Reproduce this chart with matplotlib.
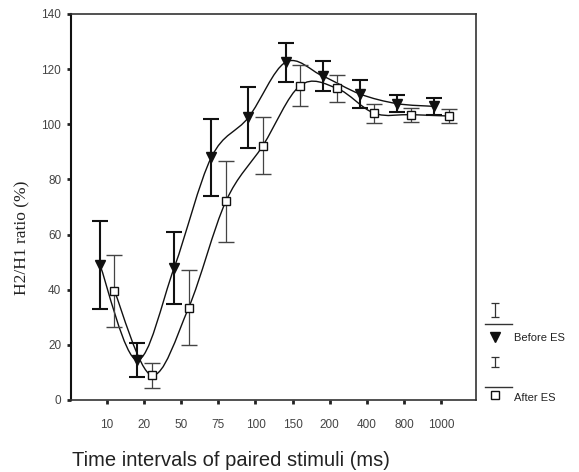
import numpy as np
import matplotlib
matplotlib.use("Agg")
from matplotlib import pyplot as plt
from matplotlib.path import Path
from matplotlib.patches import PathPatch

# paired-stimulus intervals (ms), shown as evenly spaced categories
intervals = ["10", "20", "50", "75", "100", "150", "200", "400", "800", "1000"]

# H2/H1 ratio (%) before electrical stimulation
before_mean = [49, 14.5, 48, 88, 102.5, 122.5, 117.5, 111, 107.5, 106.5]
before_err = [16, 6, 13, 14, 11, 7, 5.5, 5, 3, 3]

# H2/H1 ratio (%) after electrical stimulation
after_mean = [39.5, 9, 33.5, 72, 92.3, 114, 113, 104, 103.5, 103]
after_err = [13, 4.6, 13.5, 14.8, 10.5, 7.5, 5, 3.5, 2.5, 2.5]


def smooth_line(ax, xs, ys, **kw):
    # catmull-rom curve through the points, drawn as bezier segments
    pts = np.column_stack([xs, ys])
    n = len(pts)
    verts = [pts[0]]
    codes = [Path.MOVETO]
    for i in range(n - 1):
        p0 = pts[max(i - 1, 0)]
        p1 = pts[i]
        p2 = pts[i + 1]
        p3 = pts[min(i + 2, n - 1)]
        verts += [p1 + (p2 - p0) / 6, p2 - (p3 - p1) / 6, p2]
        codes += [Path.CURVE4] * 3
    ax.add_patch(PathPatch(Path(verts, codes), fill=False, **kw))


W, H = 579, 472
fig = plt.figure(figsize=(W / 100, H / 100), dpi=100)
ax = fig.add_axes([71 / W, (H - 400) / H, 405 / W, 386 / H])

x = np.arange(1, len(intervals) + 1)
xb = x - 0.19
xa = x + 0.2

smooth_line(ax, xb, before_mean, color="#111111", lw=1.0, zorder=2)
smooth_line(ax, xa, after_mean, color="#111111", lw=1.0, zorder=2)

ax.errorbar(xb, before_mean, yerr=before_err, fmt="none", ecolor="#111111",
            elinewidth=1.5, capsize=5.5, capthick=1.5, zorder=3)
ax.errorbar(xa, after_mean, yerr=after_err, fmt="none", ecolor="#444444",
            elinewidth=0.9, capsize=6, capthick=1.0, zorder=3)

ax.plot(xb, before_mean, "v", ms=6.8, color="#111111", zorder=4)
ax.plot(xa, after_mean, "s", ms=5.5, mfc="white", mec="#111111", mew=1.0, zorder=4)

ax.set_xlim(0.03, 10.94)
ax.set_ylim(0, 140)
ax.set_xticks(x)
ax.set_xticklabels(intervals)
ax.set_yticks(np.arange(0, 141, 20))

for side in ["top", "right", "bottom"]:
    ax.spines[side].set_color("#333333")
    ax.spines[side].set_linewidth(1.2)
ax.spines["left"].set_color("#111111")
ax.spines["left"].set_linewidth(1.5)

ax.tick_params(axis="x", direction="out", length=3, width=2, color="#222222",
               pad=11, labelsize=8.5, labelcolor="#444444")
ax.tick_params(axis="y", direction="out", length=3, width=2, color="#222222",
               pad=4, labelsize=8.5, labelcolor="#444444")
for lbl in ax.get_xticklabels() + ax.get_yticklabels():
    lbl.set_family("Liberation Sans")

fig.text(22 / W, 1 - 238 / H, "H2/H1 ratio (%)", rotation=90, ha="center", va="center",
         family="Liberation Serif", fontsize=12.5, color="#222222")
fig.text(72 / W, 1 - 460 / H, "Time intervals of paired stimuli (ms)", ha="left", va="center",
         family="Liberation Sans", fontsize=14.5, color="#222222")

# legend drawn by hand in pixel space, right of the plot
leg = fig.add_axes([0, 0, 1, 1], facecolor="none")
leg.set_xlim(0, W)
leg.set_ylim(H, 0)
leg.axis("off")
leg.errorbar([495], [310], yerr=[7], fmt="none", ecolor="#333333", elinewidth=0.9,
             capsize=2.8, capthick=0.9)
leg.plot([485, 512], [324, 324], color="#333333", lw=1.0)
leg.plot([495], [337], "v", ms=6.5, color="#111111")
leg.text(514, 338, "Before ES", ha="left", va="center", family="Liberation Sans",
         fontsize=8, color="#222222")
leg.errorbar([495], [362], yerr=[5], fmt="none", ecolor="#333333", elinewidth=0.9,
             capsize=2.8, capthick=0.9)
leg.plot([485, 512], [387, 387], color="#333333", lw=1.0)
leg.plot([495], [395], "s", ms=5.5, mfc="white", mec="#111111", mew=1.0)
leg.text(514, 398, "After ES", ha="left", va="center", family="Liberation Sans",
         fontsize=8, color="#222222")

fig.savefig("out.png", dpi=100)
